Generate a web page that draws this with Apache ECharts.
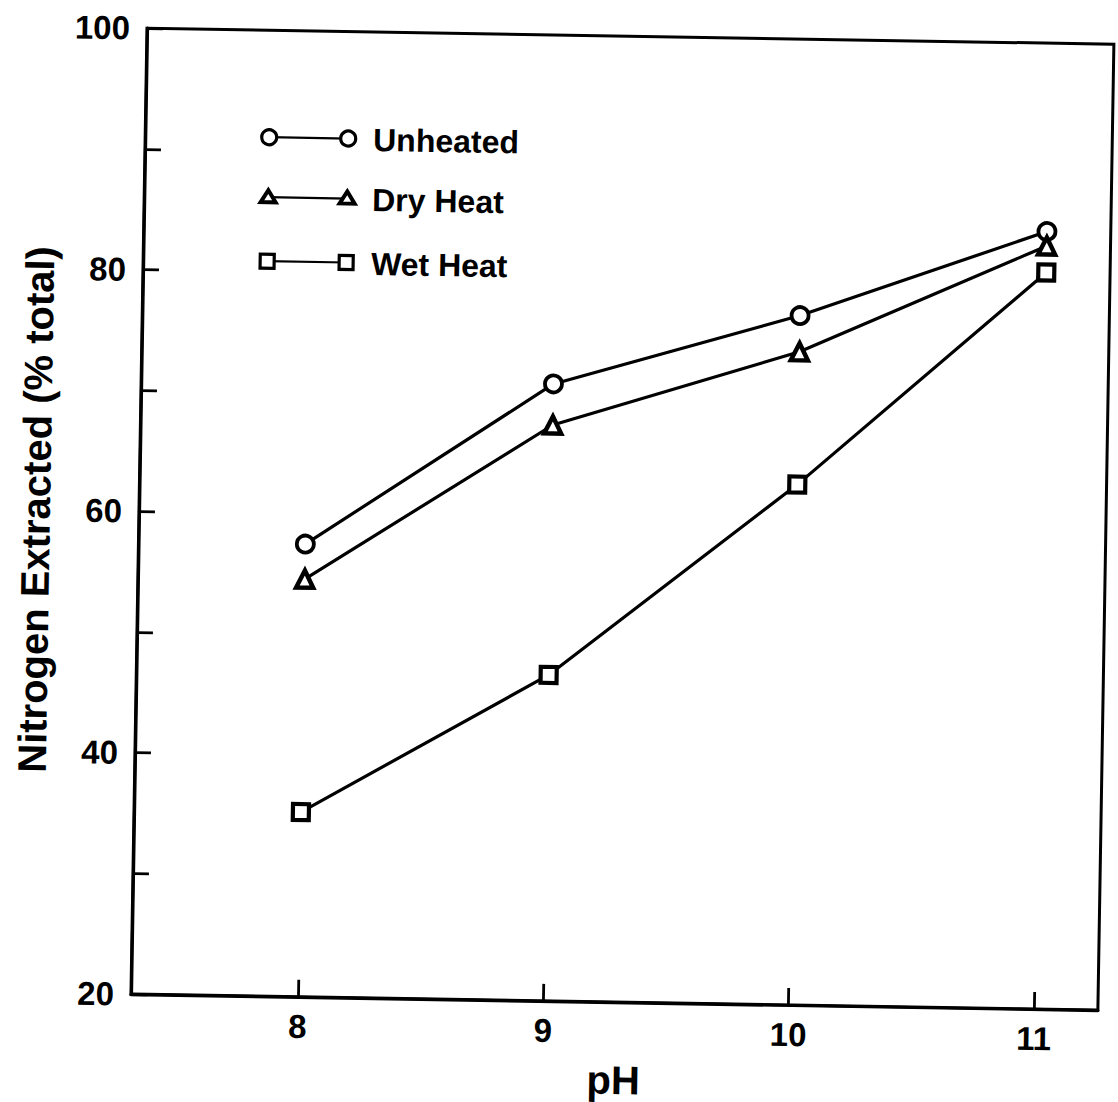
<!DOCTYPE html>
<html>
<head>
<meta charset="utf-8">
<script src="https://cdn.jsdelivr.net/npm/echarts@6/dist/echarts.min.js"></script>
<style>
  html, body { margin: 0; padding: 0; background: #fff; overflow: hidden; }
  #wrap { width: 1118px; height: 1102px; transform: rotate(0.95deg); transform-origin: 128px 994px; }
  #chart { width: 1118px; height: 1102px; }
</style>
</head>
<body>
<div id="wrap"><div id="chart"></div></div>
<script>
// pH of the extraction and nitrogen extracted (% of total N)
const phValues = [8, 9, 10, 11];
const unheated = [57.5, 71.1, 77.1, 84.4];
const dryHeat = [54.6, 67.7, 74.1, 83.2];
const wetHeat = [35.3, 47.0, 63.1, 81.0];
const seriesNames = ['Unheated', 'Dry Heat', 'Wet Heat'];
const xTickLabels = [8, 9, 10, 11];
const yTickLabels = [20, 40, 60, 80, 100];

const FONT = '"Liberation Sans", Arial, sans-serif';
const pairs = vals => phValues.map((x, i) => [x, vals[i]]);

const chart = echarts.init(document.getElementById('chart'), null, { renderer: 'svg' });

// open markers: white fill, heavy black outline
function lineSeries(name, vals, symbol, size, bw) {
  return {
    name, type: 'line', data: pairs(vals),
    symbol, symbolSize: size, showSymbol: true,
    lineStyle: { color: '#000', width: 3.2 },
    itemStyle: { color: '#fff', borderColor: '#000', borderWidth: bw, opacity: 1 },
    z: 3, animation: false, clip: false
  };
}

// hand-drawn key: a short line with a marker at each end, then the label
const keyRows = [
  { y: 135, text: seriesNames[0], shape: 'circle' },
  { y: 195, text: seriesNames[1], shape: 'triangle' },
  { y: 259, text: seriesNames[2], shape: 'square' }
];
const keyX1 = 255, keyX2 = 334, keyText = 359;
const markerStyle = { fill: '#fff', stroke: '#000', lineWidth: 3.2 };
function keyMarker(shape, cx, cy) {
  if (shape === 'circle') return { type: 'circle', shape: { cx, cy, r: 7.5 }, style: markerStyle, z: 10 };
  if (shape === 'triangle') return { type: 'polygon', shape: { points: [[cx, cy - 7], [cx + 7.5, cy + 5], [cx - 7.5, cy + 5]] }, style: Object.assign({}, markerStyle, { lineWidth: 4 }), z: 10 };
  return { type: 'rect', shape: { x: cx - 7, y: cy - 7, width: 14, height: 14 }, style: markerStyle, z: 10 };
}
const keyGraphics = [];
keyRows.forEach(r => {
  keyGraphics.push({ type: 'line', shape: { x1: keyX1, y1: r.y, x2: keyX2, y2: r.y }, style: { stroke: '#000', lineWidth: 2.2 }, z: 9 });
  keyGraphics.push(keyMarker(r.shape, keyX1, r.y));
  keyGraphics.push(keyMarker(r.shape, keyX2, r.y));
  keyGraphics.push({ type: 'text', x: keyText, y: r.y + 1, style: { text: r.text, fill: '#000', font: 'bold 32px ' + FONT, textVerticalAlign: 'middle' }, z: 10 });
});

chart.setOption({
  backgroundColor: '#fff',
  animation: false,
  grid: { left: 128, top: 28, width: 970, height: 966, show: true, borderColor: '#000', borderWidth: 3, containLabel: false },
  xAxis: {
    type: 'value', min: 7.32, max: 11.26,
    name: 'pH', nameLocation: 'middle', nameGap: 58,
    nameTextStyle: { fontFamily: FONT, fontSize: 40, color: '#000', fontWeight: 'bold' },
    axisLine: { show: true, lineStyle: { color: '#000', width: 3.2 } },
    axisTick: { show: true, inside: true, length: 17, lineStyle: { color: '#000', width: 2.8 }, customValues: xTickLabels },
    axisLabel: { customValues: xTickLabels, margin: 13, fontFamily: FONT, fontSize: 33, fontWeight: 'bold', color: '#000' },
    splitLine: { show: false }
  },
  yAxis: {
    type: 'value', min: 20, max: 100, interval: 10,
    name: 'Nitrogen Extracted (% total)', nameLocation: 'middle', nameGap: 80,
    nameTextStyle: { fontFamily: FONT, fontSize: 40, color: '#000', fontWeight: 'bold' },
    axisLine: { show: true, lineStyle: { color: '#000', width: 3.2 } },
    axisTick: { show: true, inside: true, length: 16, lineStyle: { color: '#000', width: 2.8 } },
    axisLabel: {
      margin: 17, fontFamily: FONT, fontSize: 33, fontWeight: 'bold', color: '#000',
      formatter: v => (yTickLabels.indexOf(v) >= 0 ? String(v) : '')
    },
    splitLine: { show: false }
  },
  series: [
    lineSeries(seriesNames[0], unheated, 'circle', 17, 3.8),
    lineSeries(seriesNames[1], dryHeat, 'triangle', 17, 4.5),
    lineSeries(seriesNames[2], wetHeat, 'rect', 16, 4.2)
  ],
  graphic: keyGraphics
});
</script>
</body>
</html>
